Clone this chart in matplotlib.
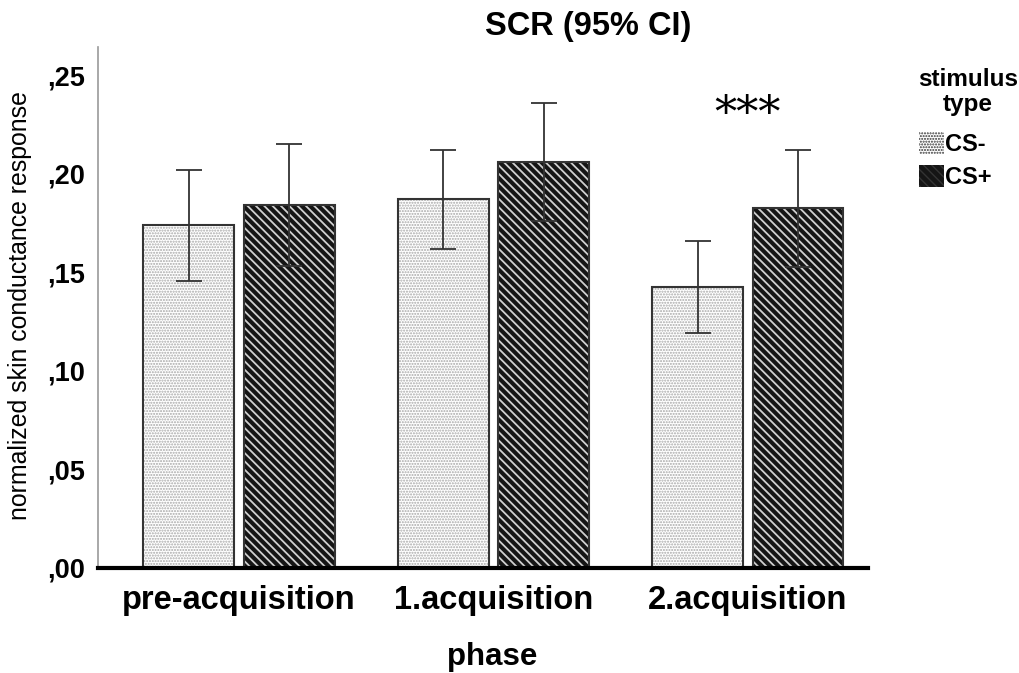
import matplotlib
matplotlib.use("Agg")
import matplotlib.pyplot as plt
from matplotlib.patches import Patch
import numpy as np

plt.rcParams['font.family'] = ['Liberation Sans', 'DejaVu Sans']

# SCR means with 95% CI bounds per phase and stimulus type
phases = ["pre-acquisition", "1.acquisition", "2.acquisition"]
cs_minus = [0.174, 0.187, 0.1425]
cs_minus_lo = [0.1455, 0.162, 0.119]
cs_minus_hi = [0.2018, 0.212, 0.166]
cs_plus = [0.184, 0.206, 0.1826]
cs_plus_lo = [0.153, 0.176, 0.1526]
cs_plus_hi = [0.215, 0.236, 0.212]
yticks = [0.0, 0.05, 0.10, 0.15, 0.20, 0.25]

W, H = 1020, 673
fig = plt.figure(figsize=(W / 100, H / 100), dpi=100)
ax = fig.add_axes([98 / W, (H - 568) / H, (868 - 98) / W, (568 - 47) / H])

x = np.arange(len(phases))
bw = 0.357
off = 0.197

# hatch styles: light dots for CS-, dark diagonal stripes for CS+
styles = {
    "CS-": dict(face="#ffffff", hcol="#a8a8a8", hatch="......", hlw=1.0),
    "CS+": dict(face="#151515", hcol="#d0d0d0", hatch="\\\\\\\\", hlw=1.3),
}


def hatched(xpos, vals, st):
    with plt.rc_context({"hatch.linewidth": st["hlw"]}):
        ax.bar(xpos, vals, bw, color=st["face"], edgecolor=st["hcol"],
               hatch=st["hatch"], linewidth=0, zorder=2)
    ax.bar(xpos, vals, bw, fill=False, edgecolor="#333333", linewidth=1.5, zorder=3)


hatched(x - off, cs_minus, styles["CS-"])
hatched(x + off, cs_plus, styles["CS+"])

for xs, m, lo, hi in [(x - off, cs_minus, cs_minus_lo, cs_minus_hi),
                      (x + off, cs_plus, cs_plus_lo, cs_plus_hi)]:
    m = np.array(m)
    err = [m - np.array(lo), np.array(hi) - m]
    ax.errorbar(xs, m, yerr=err, fmt="none", ecolor="#333333", elinewidth=1.3,
                capsize=9.4, capthick=1.3, zorder=4)

ax.text(2, 0.2295, "***", ha="center", va="center", fontsize=32,
        family="DejaVu Serif")

ax.set_xlim(-0.554, 2.472)
ax.set_ylim(0, 0.2642)
ax.set_yticks(yticks)
ax.set_yticklabels([f"{v:.2f}".replace("0.", ",") for v in yticks],
                   fontsize=19.5, fontweight="bold")
ax.set_xticks(x)
ax.set_xticklabels(phases, fontsize=23.5, fontweight="bold")
ax.tick_params(axis="both", length=0)
ax.tick_params(axis="y", pad=9)
ax.tick_params(axis="x", pad=12)

for s in ["top", "right"]:
    ax.spines[s].set_visible(False)
ax.spines["left"].set_color("#999999")
ax.spines["left"].set_linewidth(1.2)
ax.spines["bottom"].set_linewidth(3)
ax.spines["bottom"].set_zorder(5)

ax.set_xlabel("phase", fontsize=22.5, fontweight="bold")
ax.xaxis.set_label_coords((492 - 98) / (868 - 98), -(642 - 568) / (568 - 47))
ax.set_ylabel("normalized skin conductance response", fontsize=17.9)
ax.yaxis.set_label_coords(-(98 - 32) / (868 - 98), (568 - 306) / (568 - 47))
fig.text(588 / W, 1 - 27 / H, "SCR (95% CI)", ha="center", va="center",
         fontsize=23.5, fontweight="bold")

# legend: title drawn separately so it can be centred over the key
fig.text(968 / W, 1 - 92 / H, "stimulus\ntype", ha="center", va="center",
         fontsize=17.5, fontweight="bold", linespacing=1.15)
handles = [Patch(facecolor=styles[k]["face"], edgecolor=styles[k]["hcol"],
                 hatch=styles[k]["hatch"], linewidth=0) for k in ["CS-", "CS+"]]
leg = fig.legend(handles, ["CS-", "CS+"],
                 loc="upper left", bbox_to_anchor=(914 / W, 1 - 127 / H),
                 frameon=False, prop={"size": 17, "weight": "bold"},
                 handlelength=1.05, handleheight=1.05, handletextpad=0.08,
                 labelspacing=0.38, borderpad=0.2, borderaxespad=0)
for p in leg.get_patches():
    p.set_edgecolor("#333333")

fig.savefig("out.png", dpi=100)
